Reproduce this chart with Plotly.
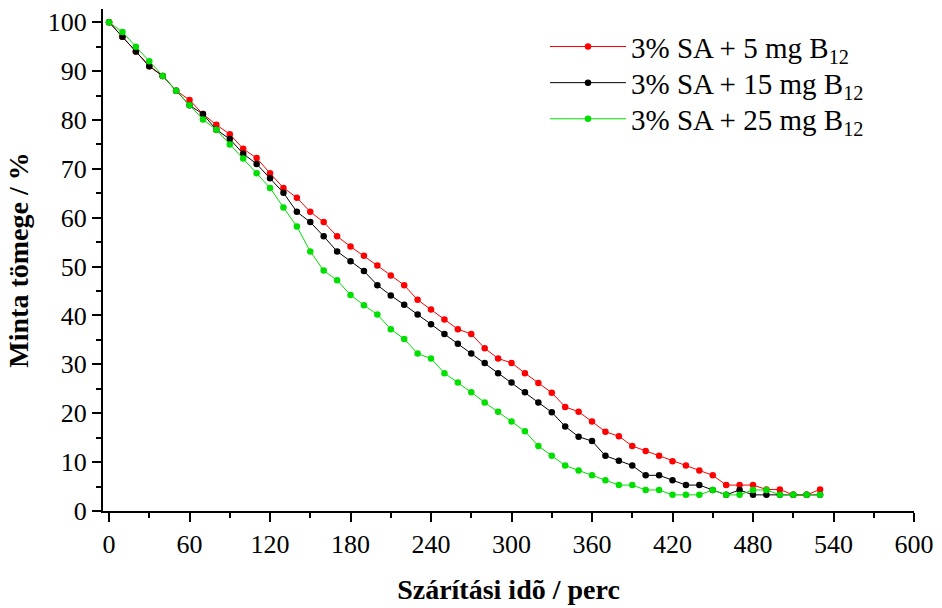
import plotly.graph_objects as go

time_min = list(range(0, 540, 10))

sa_5mg = [100, 97, 94, 91, 89, 86, 84.1, 81.2, 79.0, 77.1, 74.1, 72.2, 69.1, 66.1, 64.1, 61.2,
          59.1, 56.2, 54.1, 52.2, 50.2, 48.2, 46.2, 43.2, 41.2, 39.2, 37.2, 36.2, 33.3, 31.2,
          30.3, 28.2, 26.2, 24.2, 21.3, 20.3, 18.3, 16.2, 15.3, 13.3, 12.3, 11.3, 10.2, 9.3,
          8.3, 7.3, 5.3, 5.3, 5.3, 4.4, 4.4, 3.3, 3.3, 4.4]

sa_15mg = [100, 97, 94, 91, 89, 86, 83, 81.2, 78, 76.1, 73.1, 71.0, 68.1, 65.1, 61.2, 59.1,
           56.2, 53.1, 51.1, 49.1, 46.2, 44.1, 42.2, 40.2, 38.2, 36.2, 34.2, 32.2, 30.3, 28.2,
           26.3, 24.3, 22.2, 20.2, 17.3, 15.2, 14.3, 11.3, 10.3, 9.3, 7.3, 7.3, 6.3, 5.3,
           5.3, 4.3, 3.3, 4.3, 3.3, 3.3, 3.3, 3.3, 3.3, 3.3]

sa_25mg = [100, 98, 95, 92, 89, 86, 83, 80.1, 78, 75, 72.1, 69.1, 66.1, 62.1, 58.2, 53.1,
           49.2, 47.2, 44.2, 42.1, 40.2, 37.2, 35.2, 32.2, 31.2, 28.2, 26.3, 24.3, 22.2, 20.3,
           18.3, 16.3, 13.3, 11.3, 9.3, 8.3, 7.3, 6.3, 5.3, 5.3, 4.3, 4.3, 3.3, 3.3,
           3.3, 4.3, 3.3, 3.3, 4.3, 4.3, 3.3, 3.3, 3.3, 3.3]

series_names = ["3% SA + 5 mg B<sub>12</sub>", "3% SA + 15 mg B<sub>12</sub>", "3% SA + 25 mg B<sub>12</sub>"]
series_colors = ["#ff0000", "#000000", "#00e000"]
series_values = [sa_5mg, sa_15mg, sa_25mg]

x_ticks = list(range(0, 601, 60))
y_ticks = list(range(0, 101, 10))

FONT = "Liberation Serif"
legend_ids = ["legend", "legend2", "legend3"]
legend_y = [0.925, 0.853, 0.781]

fig = go.Figure()
for name, color, vals, lid in zip(series_names, series_colors, series_values, legend_ids):
    fig.add_trace(go.Scatter(
        x=time_min, y=vals, name=name, mode="lines+markers",
        line=dict(color=color, width=1),
        marker=dict(color=color, size=6.5, line=dict(width=0)),
        legend=lid,
    ))

legend_common = dict(x=0.545, xanchor="left", yanchor="middle",
                     bgcolor="rgba(0,0,0,0)", font=dict(family=FONT, size=29),
                     itemwidth=76)

fig.update_layout(
    width=942, height=608,
    margin=dict(l=103, r=21, t=8, b=97),
    plot_bgcolor="white", paper_bgcolor="white",
    font=dict(family=FONT, size=26, color="black"),
    showlegend=True,
    legend=dict(y=legend_y[0], **legend_common),
    legend2=dict(y=legend_y[1], **legend_common),
    legend3=dict(y=legend_y[2], **legend_common),
    xaxis=dict(
        range=[-4.5, 600], tickvals=x_ticks, ticks="outside", ticklen=9, tickwidth=2,
        tickcolor="black", showline=True, linecolor="black", linewidth=2,
        showgrid=False, zeroline=False, mirror=False,
        minor=dict(dtick=30, tick0=0, ticks="outside", ticklen=5, tickwidth=2, tickcolor="black"),
        title=dict(text="<b>Szárítási idõ / perc</b>", font=dict(family=FONT, size=28), standoff=21),
        tickfont=dict(family=FONT, size=26),
    ),
    yaxis=dict(
        range=[0, 102.7], tickvals=y_ticks, ticks="outside", ticklen=9, tickwidth=2,
        tickcolor="black", showline=True, linecolor="black", linewidth=2,
        showgrid=False, zeroline=False, mirror=False,
        minor=dict(dtick=5, tick0=0, ticks="outside", ticklen=5, tickwidth=2, tickcolor="black"),
        title=dict(text="<b>Minta tömege / %</b>", font=dict(family=FONT, size=28), standoff=11),
        tickfont=dict(family=FONT, size=26),
    ),
)

fig.write_html("out.html", config={"displayModeBar": False},
               post_script="document.body.style.margin='0';document.body.style.padding='0';")
